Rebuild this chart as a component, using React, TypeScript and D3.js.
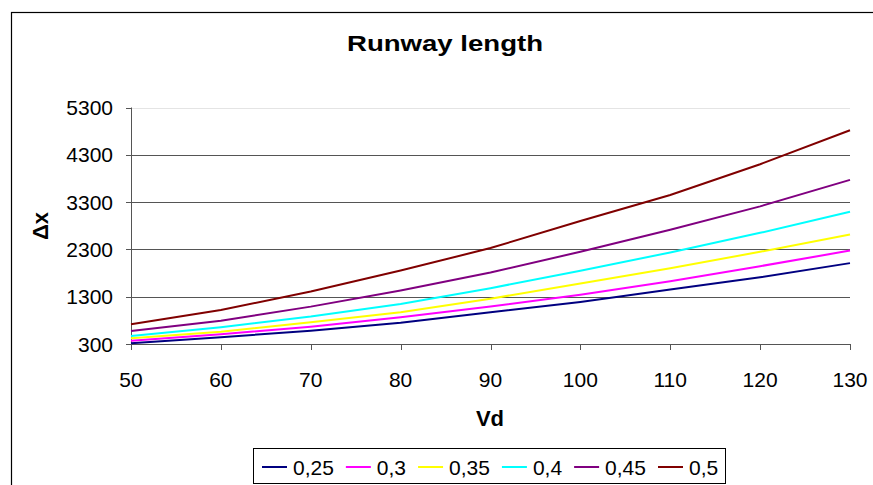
import React from "react";
import * as d3 from "d3";

const speeds = [50, 60, 70, 80, 90, 100, 110, 120, 130];
const seriesNames = ["0,25", "0,3", "0,35", "0,4", "0,45", "0,5"];
const s025 = [315, 442, 582, 751, 972, 1190, 1450, 1710, 2010];
const s030 = [370, 505, 667, 866, 1091, 1340, 1625, 1945, 2275];
const s035 = [420, 561, 759, 972, 1258, 1580, 1900, 2250, 2616];
const s040 = [470, 654, 879, 1148, 1480, 1850, 2235, 2650, 3097];
const s045 = [575, 794, 1090, 1430, 1811, 2250, 2716, 3210, 3770];
const s050 = [717, 1020, 1408, 1853, 2328, 2900, 3450, 4100, 4820];
const seriesColors = ["#000080", "#FF00FF", "#FFFF00", "#00FFFF", "#800080", "#800000"];
const yTicks = [300, 1300, 2300, 3300, 4300, 5300];
const xTicks = [50, 60, 70, 80, 90, 100, 110, 120, 130];

const allSeries = [s025, s030, s035, s040, s045, s050];

export default function App() {
  const W = 873, H = 485;
  const left = 131, right = 850, top = 107.5, bottom = 344;
  const x = d3.scaleLinear().domain([50, 130]).range([left, right]);
  const y = d3.scaleLinear().domain([300, 5300]).range([bottom, top]);
  const line = d3.line<[number, number]>().x(d => x(d[0])).y(d => y(d[1]));
  const font = "'Liberation Sans', Arial, sans-serif";

  // legend layout
  const fs = 21;
  const charW = (s: string) => s.split("").reduce((a, c) => a + (c === "," ? 0.278 : 0.556), 0) * fs;
  let cx = 262;
  const legendItems = seriesNames.map((n, i) => {
    const item = { name: n, color: seriesColors[i], x: cx };
    cx += 25 + 6 + charW(n) + 12;
    return item;
  });

  return (
    <svg width={W} height={H} style={{ position: "absolute", left: 0, top: 0, background: "#fff" }} fontFamily={font}>
      <rect x={11.5} y={12.5} width={900} height={500} fill="#fff" stroke="#000" strokeWidth={1.2} />
      <text x={445} y={51} textAnchor="middle" fontSize={22} fontWeight="bold" textLength={196} lengthAdjust="spacingAndGlyphs">Runway length</text>
      {yTicks.map((t, i) => (
        <g key={t}>
          <line x1={left} x2={right} y1={Math.round(y(t)) + 0.5} y2={Math.round(y(t)) + 0.5}
            stroke={i === yTicks.length - 1 ? "#e4e4e4" : "#555"} strokeWidth={1} />
          <line x1={left - 5} x2={left} y1={Math.round(y(t)) + 0.5} y2={Math.round(y(t)) + 0.5} stroke="#555" />
          <text x={113} y={y(t) + 7.5} textAnchor="end" fontSize={fs}>{t}</text>
        </g>
      ))}
      <line x1={left + 0.5} x2={left + 0.5} y1={top} y2={bottom} stroke="#555" />
      <line x1={left} x2={right} y1={bottom + 0.5} y2={bottom + 0.5} stroke="#555" />
      {xTicks.map(t => (
        <g key={t}>
          <line x1={Math.round(x(t)) + 0.5} x2={Math.round(x(t)) + 0.5} y1={bottom} y2={bottom + 6} stroke="#555" />
          <text x={x(t)} y={387} textAnchor="middle" fontSize={fs}>{t}</text>
        </g>
      ))}
      {allSeries.map((s, i) => (
        <path key={i} d={line(speeds.map((v, j) => [v, s[j]] as [number, number])) || ""}
          fill="none" stroke={seriesColors[i]} strokeWidth={2} />
      ))}
      <text x={490} y={426} textAnchor="middle" fontSize={22} fontWeight="bold">Vd</text>
      <text transform="translate(48,226) rotate(-90)" textAnchor="middle" fontSize={22} fontWeight="bold">Δx</text>
      <rect x={253.5} y={448.5} width={472} height={35} fill="#fff" stroke="#000" strokeWidth={1} />
      {legendItems.map(it => (
        <g key={it.name}>
          <line x1={it.x} x2={it.x + 25} y1={467} y2={467} stroke={it.color} strokeWidth={2} />
          <text x={it.x + 31} y={475} fontSize={fs}>{it.name}</text>
        </g>
      ))}
    </svg>
  );
}
